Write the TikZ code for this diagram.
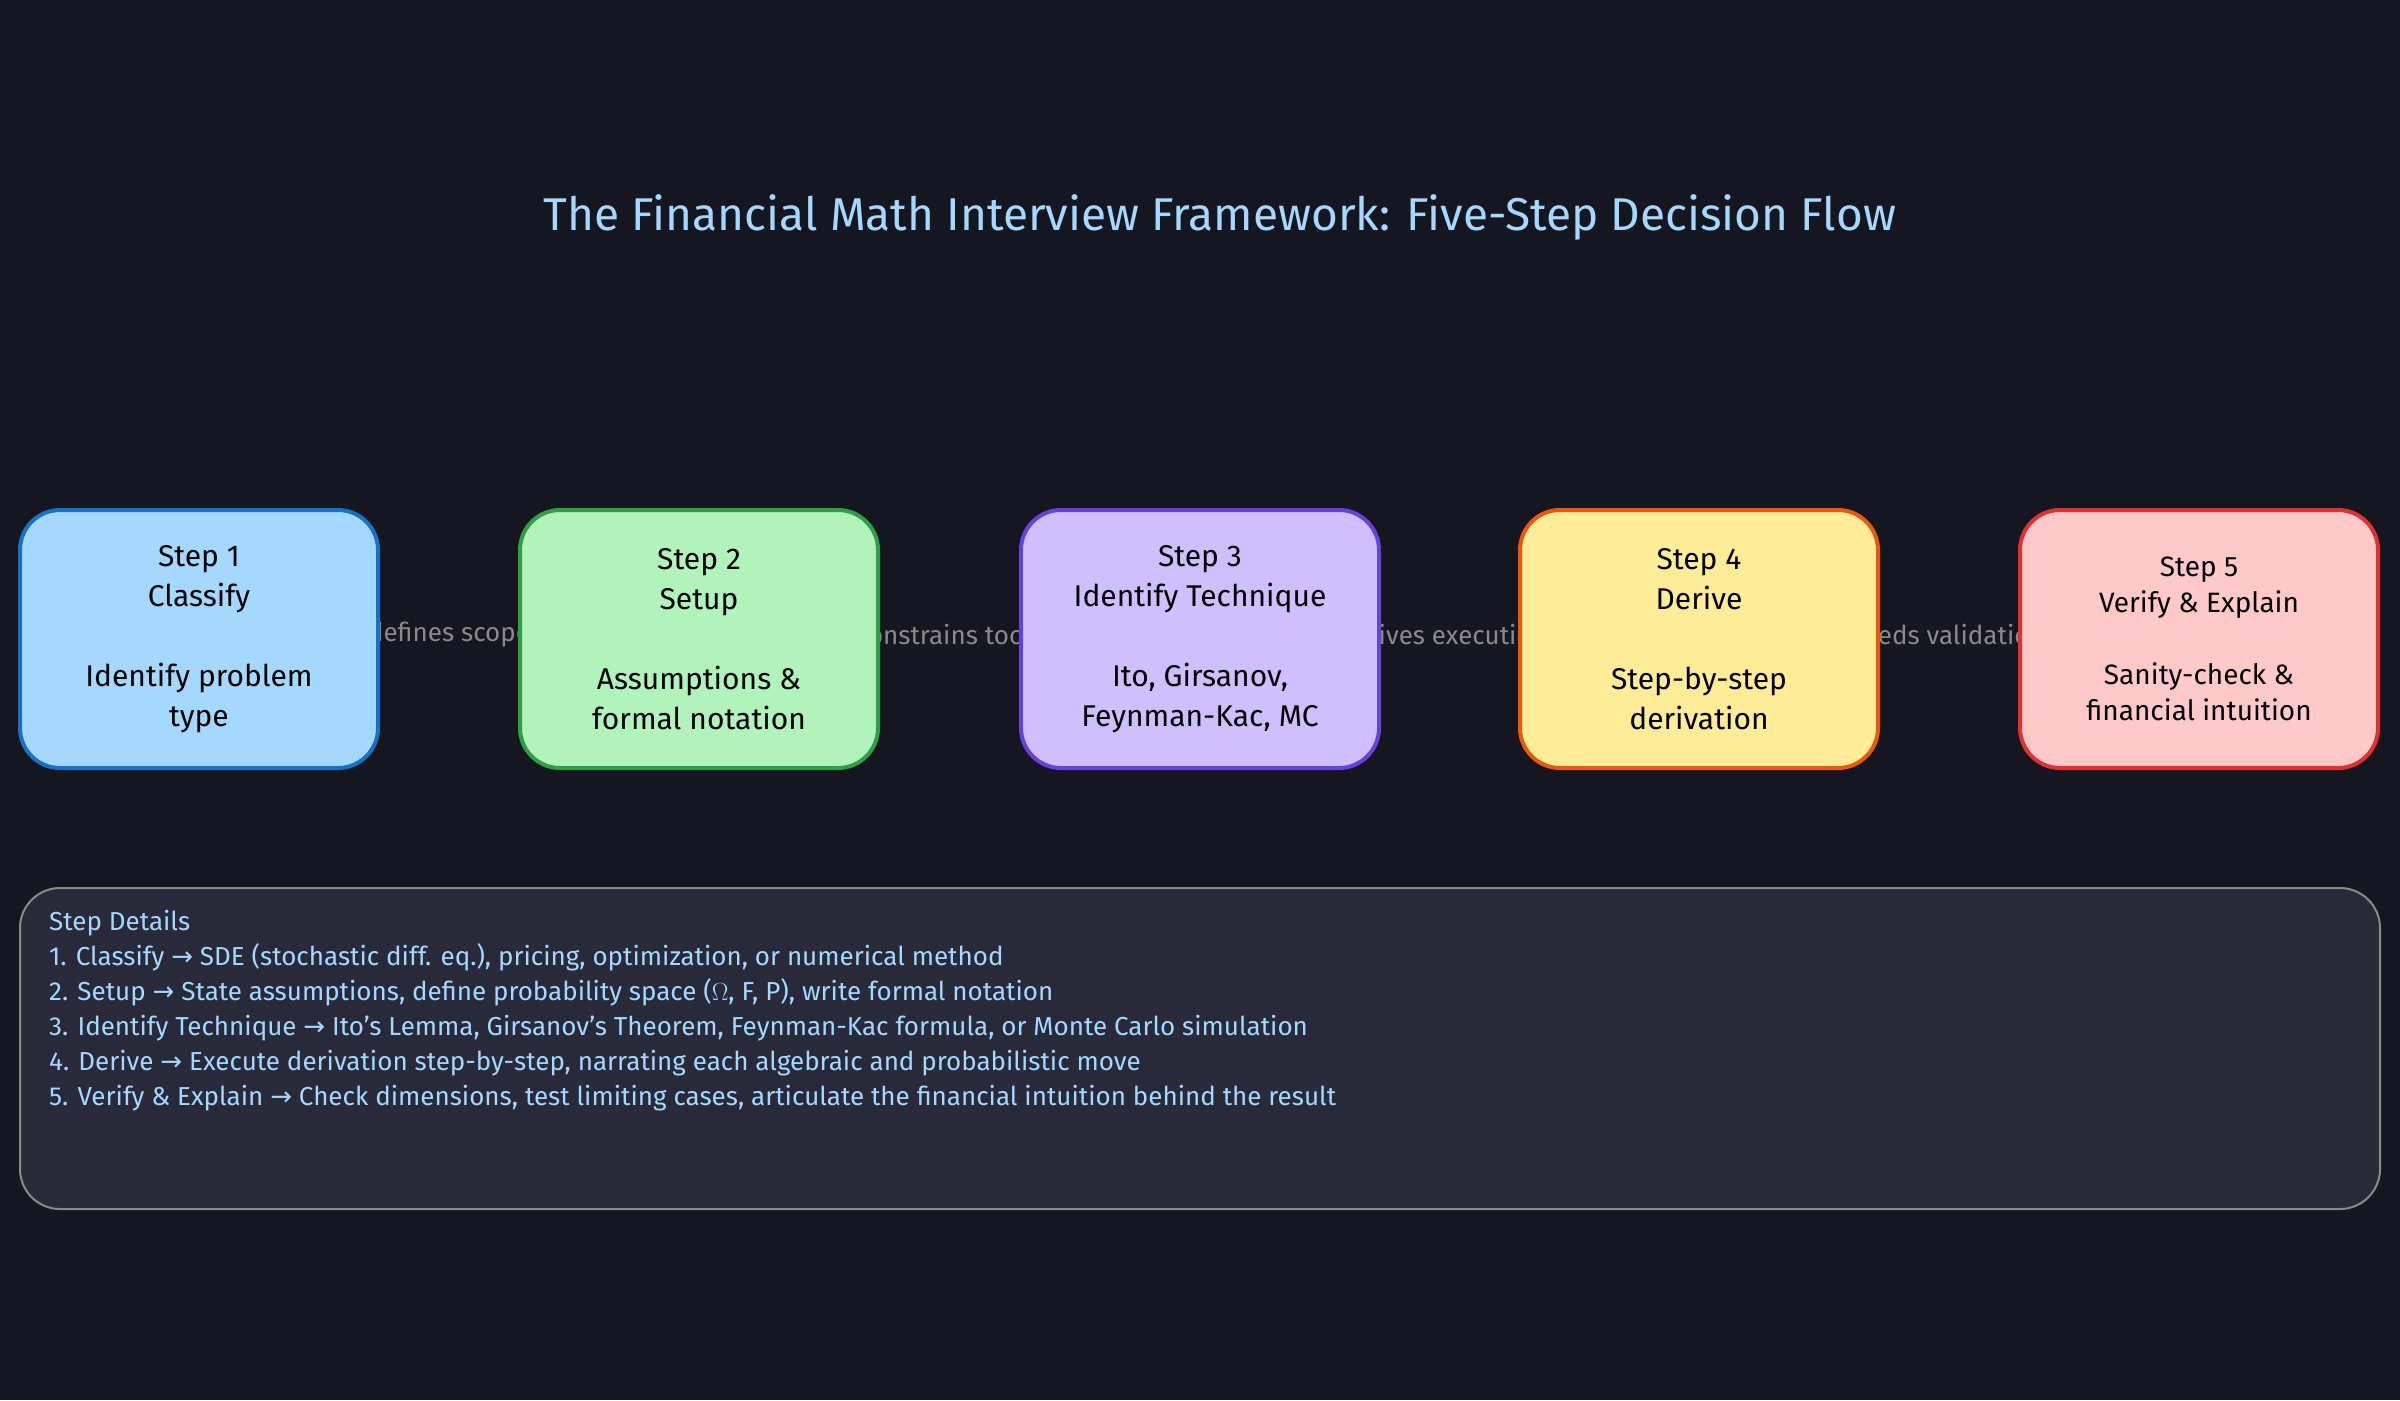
\documentclass[tikz,border=0pt]{standalone}
\usepackage{fontspec}
\setmainfont{Fira Sans}
\newfontfamily\symf{DejaVu Sans}
\newcommand{\ar}{{\symf →}}
\definecolor{bg}{HTML}{15161F}
\definecolor{ttl}{HTML}{A5D8FF}
\definecolor{lbl}{HTML}{8A8A8A}
\definecolor{fa}{HTML}{A5D8FF}\definecolor{sa}{HTML}{1971C2}
\definecolor{fb}{HTML}{B2F2BB}\definecolor{sb}{HTML}{2F9E44}
\definecolor{fc}{HTML}{D0BFFF}\definecolor{sc}{HTML}{6741D9}
\definecolor{fd}{HTML}{FFEC99}\definecolor{sd}{HTML}{E8590C}
\definecolor{fe}{HTML}{FFC9C9}\definecolor{se}{HTML}{E03131}
\definecolor{detf}{HTML}{282A3A}
\definecolor{dets}{HTML}{8A8A8A}
\tikzset{
 stepbox/.style={draw, line width=4pt, rounded corners=40pt, minimum width=358pt, minimum height=258pt, align=center, text=black, font=\fontsize{30}{40}\selectfont, inner sep=0pt},
 conlbl/.style={text=lbl, font=\fontsize{26}{30}\selectfont}
}
\begin{document}
\begin{tikzpicture}[x=1pt,y=-1pt]
\fill[bg] (0,0) rectangle (2400,1400);
\useasboundingbox (0,0) rectangle (2400,1400);
\node[text=ttl, font=\fontsize{46}{52}\selectfont] (title) at (1220,217) {The Financial Math Interview Framework: Five-Step Decision Flow};
\node[conlbl] (l1) at (449,635) {defines scope};
\node[conlbl] (l2) at (950,635) {constrains tools};
\node[conlbl] (l3) at (1450,635) {drives execution};
\node[conlbl] (l4) at (1950,635) {feeds validation};
\node[stepbox, fill=fa, draw=sa] (s1) at (199,639) {Step 1\\Classify\\[40pt]Identify problem\\type};
\node[stepbox, fill=fb, draw=sb] (s2) at (699,639) {Step 2\\Setup\\[40pt]Assumptions \&\\formal notation};
\node[stepbox, fill=fc, draw=sc] (s3) at (1200,639) {Step 3\\Identify Technique\\[40pt]Ito, Girsanov,\\Feynman-Kac, MC};
\node[stepbox, fill=fd, draw=sd] (s4) at (1699,639) {Step 4\\Derive\\[40pt]Step-by-step\\derivation};
\node[stepbox, fill=fe, draw=se, font=\fontsize{28}{36}\selectfont] (s5) at (2199,639) {Step 5\\Verify \& Explain\\[36pt]Sanity-check \&\\financial intuition};
\draw[dets, fill=detf, line width=2pt, rounded corners=40pt] (20,888) rectangle (2380,1209);
\node[anchor=north west, text=ttl, align=left, font=\fontsize{26}{35}\selectfont, inner sep=0pt] (det) at (49,910) {Step Details\\
1. Classify \ar{} SDE (stochastic diff. eq.), pricing, optimization, or numerical method\\
2. Setup \ar{} State assumptions, define probability space ($\Omega$, F, P), write formal notation\\
3. Identify Technique \ar{} Ito's Lemma, Girsanov's Theorem, Feynman-Kac formula, or Monte Carlo simulation\\
4. Derive \ar{} Execute derivation step-by-step, narrating each algebraic and probabilistic move\\
5. Verify \& Explain \ar{} Check dimensions, test limiting cases, articulate the financial intuition behind the result};
\end{tikzpicture}
\end{document}
